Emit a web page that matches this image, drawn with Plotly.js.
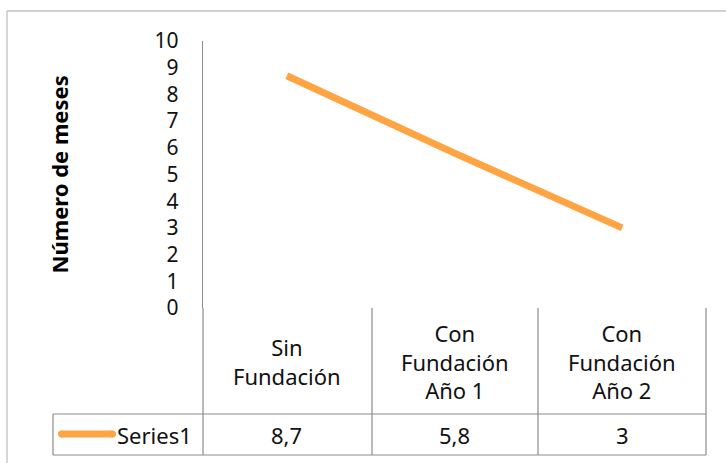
<!DOCTYPE html>
<html>
<head>
<meta charset="utf-8">
<script src="https://cdn.plot.ly/plotly-3.0.1.min.js"></script>
<style>html,body{margin:0;padding:0;background:#fff;}#chart{width:726px;height:463px;}</style>
</head>
<body>
<div id="chart"></div>
<script>
const categories = ['Sin Fundación', 'Con Fundación Año 1', 'Con Fundación Año 2'];
const headerLabels = ['Sin<br>Fundación', 'Con<br>Fundación<br>Año 1', 'Con<br>Fundación<br>Año 2'];
const series1 = [8.7, 5.8, 3];
const seriesName = 'Series1';
const yTickVals = [0, 1, 2, 3, 4, 5, 6, 7, 8, 9, 10];
const yTitle = 'Número de meses';

const W = 726, H = 463;
const px = v => v / W;
const py = v => 1 - v / H;

const plotL = 203, plotR = 706, plotT = 41, plotB = 308;
const headB = 414, tableB = 455, keyL = 53;
const colLines = [372, 538, 706];

const FONT = 'Noto Sans, Open Sans, sans-serif';
const ORANGE = '#FFA443';
const LINE = '#8c8c8c';
const FRAME = '#c0c0c0';

const fmt = v => String(v).replace('.', ',');

const shapes = [];
function ln(x0, y0, x1, y1, color, w) {
  shapes.push({type: 'line', xref: 'paper', yref: 'paper', x0: px(x0), y0: py(y0), x1: px(x1), y1: py(y1),
    line: {color: color, width: w}});
}
// outer frame (cut at right and bottom)
ln(7, 11, 726, 11, FRAME, 1.3);
ln(7, 11, 7, 463, FRAME, 1.3);
// table
ln(plotL, plotB, plotL, tableB, LINE, 1.2);
ln(keyL, headB, plotR, headB, LINE, 1.2);
ln(keyL, tableB, plotR, tableB, LINE, 1.2);
ln(keyL, headB, keyL, tableB, LINE, 1.2);
colLines.forEach(x => ln(x, plotB, x, tableB, LINE, 1.2));
// legend key
ln(61, 434, 113, 434, ORANGE, 7);
shapes.push({type: 'circle', xref: 'paper', yref: 'paper', x0: px(58), x1: px(65), y0: py(430.5), y1: py(437.5), fillcolor: ORANGE, line: {width: 0}});
shapes.push({type: 'circle', xref: 'paper', yref: 'paper', x0: px(109), x1: px(116), y0: py(430.5), y1: py(437.5), fillcolor: ORANGE, line: {width: 0}});

const TXT = 22;
const annotations = [];
headerLabels.forEach((t, i) => {
  annotations.push({xref: 'x', yref: 'paper', x: i, y: py((plotB + headB) / 2), text: t, showarrow: false,
    xanchor: 'center', yanchor: 'middle', font: {family: FONT, size: TXT, color: '#111'}, align: 'center'});
});
series1.forEach((v, i) => {
  annotations.push({xref: 'x', yref: 'paper', x: i, y: py((headB + tableB) / 2), text: fmt(v), showarrow: false,
    xanchor: 'center', yanchor: 'middle', font: {family: FONT, size: TXT, color: '#111'}});
});
annotations.push({xref: 'paper', yref: 'paper', x: px(115), y: py((headB + tableB) / 2), text: seriesName, showarrow: false,
  xanchor: 'left', yanchor: 'middle', font: {family: FONT, size: TXT, color: '#111'}});
// y axis title
annotations.push({xref: 'paper', yref: 'paper', x: px(58), y: py((plotT + plotB) / 2), text: '<b>' + yTitle + '</b>',
  textangle: -90, showarrow: false, xanchor: 'center', yanchor: 'middle', font: {family: FONT, size: 22, color: '#000'}});

const trace = {
  x: categories, y: series1, type: 'scatter', mode: 'lines', name: seriesName,
  line: {color: ORANGE, width: 7}, hoverinfo: 'skip'
};

const layout = {
  width: W, height: H,
  margin: {l: 0, r: 0, t: 0, b: 0},
  paper_bgcolor: '#fff', plot_bgcolor: '#fff',
  showlegend: false,
  xaxis: {
    domain: [px(plotL), px(plotR)], range: [-0.5, 2.5], type: 'category',
    showticklabels: false, showgrid: false, zeroline: false, showline: false, ticks: '', fixedrange: true
  },
  yaxis: {
    domain: [py(plotB), py(plotT)], range: [0, 10], tickvals: yTickVals,
    ticktext: yTickVals.map(String), showgrid: false, zeroline: false,
    showline: true, linecolor: LINE, linewidth: 1.2, ticks: '', ticklabelstandoff: 19,
    tickfont: {family: FONT, size: 21, color: '#111'},
    fixedrange: true
  },
  shapes: shapes,
  annotations: annotations
};

Plotly.newPlot('chart', [trace], layout, {displayModeBar: false, staticPlot: true});
</script>
</body>
</html>
